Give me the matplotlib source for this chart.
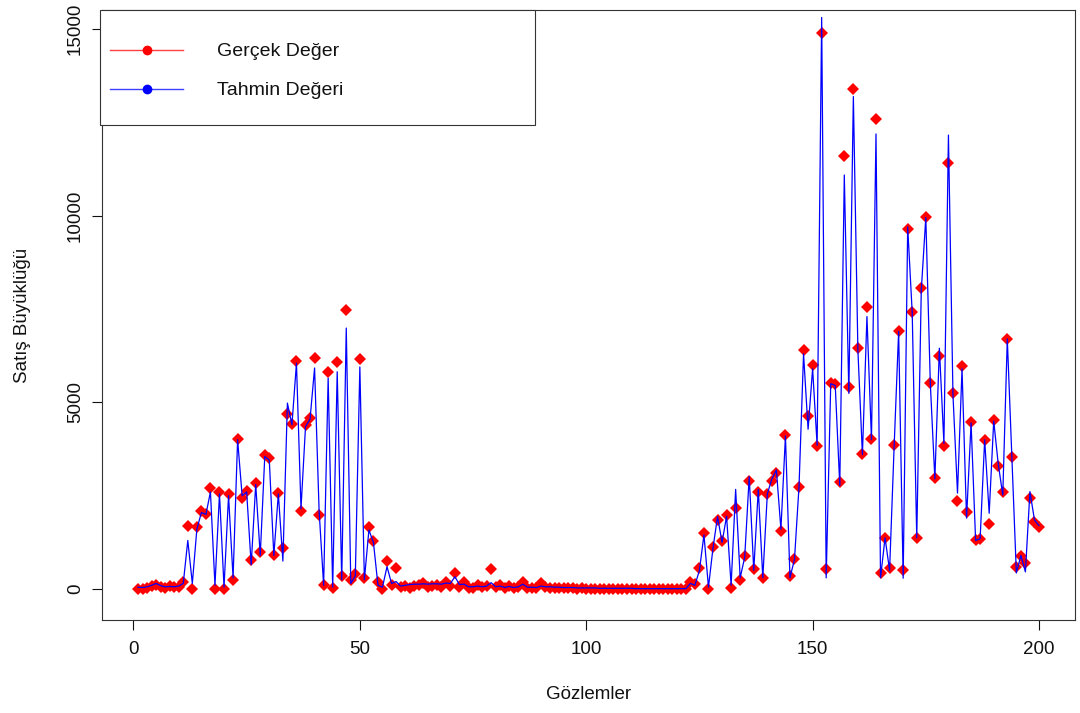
import matplotlib
matplotlib.use('Agg')
import matplotlib.pyplot as plt
from matplotlib.lines import Line2D
from matplotlib.patches import Rectangle

plt.rcParams['font.family'] = ['Liberation Sans', 'DejaVu Sans']

# observed (red points) and predicted (blue line), observations 1..200
actual = [0, 10, 20, 80, 120, 60, 30, 80, 50, 60, 200,
  1700, 0, 1650, 2100, 2000, 2700, 0, 2600, 0, 2550, 250, 4030, 2430, 2630,
  780, 2840, 990, 3590, 3500, 910, 2570, 1090, 4690, 4420, 6110, 2090, 4400,
  4580, 6200, 1980, 100, 5800, 35, 6090, 360, 7480, 240, 400, 6170, 300,
  1670, 1300, 190, 0, 750, 100, 555, 50,
  80, 40, 80, 100, 150, 60, 80, 100, 60, 190, 80, 420, 50, 200, 30, 40, 100, 50, 80,
  540,
  50, 100, 20, 80, 30, 60, 200, 30, 40, 20, 150, 60, 30, 40, 30, 20, 30, 20, 10, 20, 10,
  0, 0, 0, 0, 0, 0, 0, 0, 0, 0, 0, 0, 0, 0, 0, 0, 0, 0, 0, 0, 0, 0,
  180, 125, 555, 1510, 0, 1130, 1850, 1290, 1970, 20, 2160, 240, 880, 2900,
  530, 2590, 290, 2540, 2900, 3120, 1560, 4130, 350, 800, 2740, 6390, 4630,
  6000, 3830, 14900, 530, 5510, 5500, 2870, 11600, 5410, 13390, 6450, 3630,
  7550, 4030, 12590, 430, 1370, 560, 3850, 6910, 510, 9640, 7430, 1370, 8050,
  9970, 5510, 2980, 6250, 3830, 11400, 5240, 2370, 5970, 2070, 4480, 1310,
  1330, 3990, 1730, 4530, 3300, 2610, 6690, 3540, 600, 880, 690, 2430, 1800, 1670]

predicted = [50, 40, 60, 100, 150, 90, 60, 70, 60, 80, 150,
  1300, 150, 1600, 2050, 2000, 2600, 100, 2550, 50, 2500, 300, 4000, 2500, 2600,
  650, 2800, 900, 3550, 3450, 900, 2550, 750, 4980, 4400, 6050, 2150, 4350,
  4550, 5920, 2100, 100, 5650, 50, 5820, 250, 6990, 150, 350, 5950, 250,
  1580, 1250, 100, 50, 600, 150, 200, 80,
  100, 120, 130, 130, 140, 130, 140, 140, 130, 160, 150, 330, 120, 130, 60, 60, 80, 60, 80,
  170,
  60, 80, 40, 70, 40, 60, 130, 50, 50, 40, 80, 60, 60, 50, 50, 40, 40, 40, 30, 30, 30,
  30, 30, 20, 20, 20, 20, 20, 20, 20, 20, 10, 10, 10, 10, 10, 10, 10, 10, 10, 10, 10, 10,
  150, 100, 500, 1450, 50, 1100, 1940, 1250, 1950, 100, 2670, 300, 850, 3010,
  500, 2670, 300, 2550, 2950, 3190, 1600, 4100, 300, 800, 2750, 6300, 4280,
  5900, 3850, 15310, 300, 5500, 5450, 2770, 11090, 5240, 13190, 6400, 3600,
  7300, 4000, 12190, 300, 1370, 500, 3800, 6900, 290, 9700, 7400, 1370, 8000,
  9950, 5500, 2950, 6450, 3900, 12160, 5200, 2570, 5900, 1900, 4450, 1300,
  1350, 4000, 2030, 4500, 3350, 2520, 6700, 3550, 430, 900, 460, 2610, 1850, 1700]

obs = list(range(1, len(actual) + 1))
xticks = [0, 50, 100, 150, 200]
yticks = [0, 5000, 10000, 15000]
labels = ['Gerçek Değer', 'Tahmin Değeri']
legend_colors = [('#FF4040', '#FF0000'), ('#4040FF', '#0000FF')]

fig = plt.figure(figsize=(10.8, 7.13), dpi=100)
ax = fig.add_axes([0.0944, 0.1304, 0.9010, 0.8556])

ax.plot(obs, actual, linestyle='none', marker='D', markersize=6,
  color='#FF0000', markeredgewidth=0)
ax.plot(obs, predicted, color='#0000FF', linewidth=0.9)

ax.set_xlim(-6.96, 207.96)
ax.set_ylim(-830, 15510)
ax.set_xticks(xticks)
ax.set_yticks(yticks)
ax.set_yticklabels([str(v) for v in yticks], rotation=90, va='center')
ax.tick_params(direction='out', length=7, width=0.8, labelsize=13.5, colors='#111111')
ax.tick_params(axis='x', pad=8)
ax.tick_params(axis='y', pad=6)
for s in ax.spines.values():
  s.set_linewidth(0.8)
  s.set_color('#333333')

ax.set_xlabel('Gözlemler', fontsize=13.5, labelpad=20, color='#111111')
ax.set_ylabel('Satış Büyüklüğü', fontsize=13.5, labelpad=26, color='#111111')

# legend box in the upper-left corner, R style
ax.add_patch(Rectangle((-0.002, 0.8115), 0.447, 0.1885, transform=ax.transAxes,
  facecolor='white', edgecolor='#333333', linewidth=0.8, clip_on=False, zorder=5))
for (lc, mc), lab, yy in zip(legend_colors, labels, [0.9344, 0.8705]):
  ax.add_line(Line2D([0.0082, 0.0833], [yy, yy], transform=ax.transAxes,
    color=lc, linewidth=1, zorder=6))
  ax.add_line(Line2D([0.0462], [yy], transform=ax.transAxes, marker='o',
    markersize=6, color=mc, zorder=6))
  ax.text(0.1182, yy - 0.002, lab, transform=ax.transAxes, fontsize=14, va='center',
    ha='left', color='#111111', zorder=6)

fig.savefig('out.png', dpi=100)
